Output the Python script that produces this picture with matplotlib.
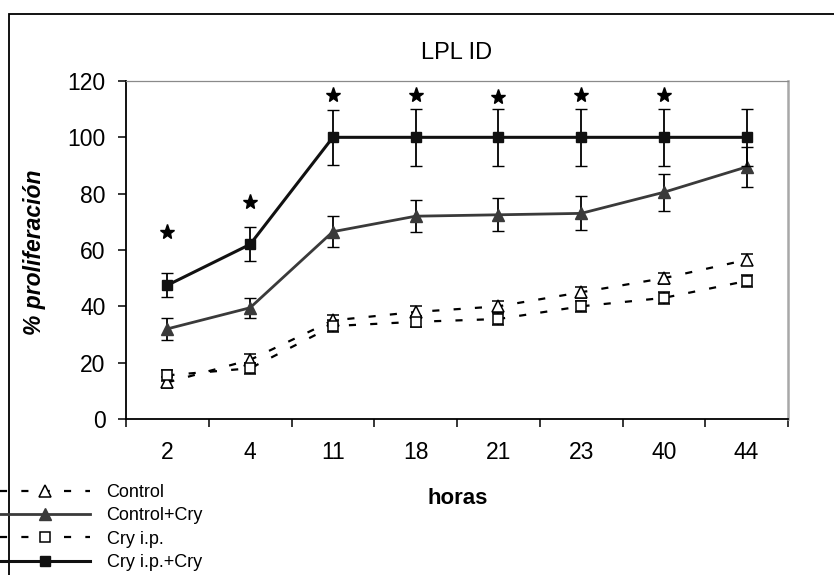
import numpy as np
import matplotlib.pyplot as plt
from matplotlib.lines import Line2D
from matplotlib.patches import Rectangle

plt.switch_backend("Agg")
plt.rcParams["font.family"] = ["Liberation Sans", "DejaVu Sans"]

# 数据
horas = ["2", "4", "11", "18", "21", "23", "40", "44"]

control = [13, 21, 35, 38, 40, 45, 50, 56.5]
control_err = [2, 2, 2, 2, 2, 2, 2, 2]

control_cry = [32, 39.5, 66.5, 72, 72.5, 73, 80.5, 89.5]
control_cry_err = [3.8, 3.5, 5.5, 5.7, 5.8, 6, 6.5, 7]

cry_ip = [15.5, 18, 33, 34.5, 35.5, 40, 43, 49]
cry_ip_err = [2, 2, 2, 2, 2, 2, 2, 2]

cry_ip_cry = [47.5, 62, 100, 100, 100, 100, 100, 100]
cry_ip_cry_err = [4.3, 6, 9.7, 10, 10, 10, 10, 10]

# 显著性标记 (*) 位置
star_idx = [0, 1, 2, 3, 4, 5, 6]
star_y = [66.5, 77, 115, 115, 114.4, 115, 115.2]

x = np.arange(len(horas))

fig = plt.figure(figsize=(8.34, 5.75), dpi=100)
ax = fig.add_axes([126 / 834, 1 - 419 / 575, (788 - 126) / 834, (419 - 81) / 575])

dash = (3.2, 6.4)
err_kw = dict(ecolor="black", elinewidth=1.3, capsize=4.3, capthick=1.3)

# 四组曲线
styles = [
    dict(data=control, err=control_err, label="Control", color="black", lw=1.6, dashes=dash,
         marker="^", ms=8, mfc="white", mec="black", mew=1.1, z=3),
    dict(data=control_cry, err=control_cry_err, label="Control+Cry", color="#3a3a3a", lw=2.0,
         dashes=None, marker="^", ms=8.5, mfc="#3a3a3a", mec="#3a3a3a", mew=1.0, z=4),
    dict(data=cry_ip, err=cry_ip_err, label="Cry i.p.", color="black", lw=1.6, dashes=dash,
         marker="s", ms=7, mfc="white", mec="black", mew=1.1, z=3),
    dict(data=cry_ip_cry, err=cry_ip_cry_err, label="Cry i.p.+Cry", color="#111111", lw=2.2,
         dashes=None, marker="s", ms=7.2, mfc="#111111", mec="#111111", mew=1.0, z=5),
]

handles = []
for s in styles:
    kw = dict(color=s["color"], lw=s["lw"], marker=s["marker"], ms=s["ms"],
              mfc=s["mfc"], mec=s["mec"], mew=s["mew"])
    if s["dashes"]:
        kw["dashes"] = s["dashes"]
    ax.errorbar(x, s["data"], yerr=s["err"], zorder=s["z"], **kw, **err_kw)
    handles.append(Line2D([], [], label=s["label"], **kw))

ax.plot(x[star_idx], star_y, ls="none", marker="*", ms=11, color="black", zorder=6)

ax.set_xlim(-0.5, len(horas) - 0.5)
ax.set_ylim(0, 120)
ax.set_yticks(np.arange(0, 121, 20))
ax.set_xticks(x)
ax.set_xticklabels(horas)
ax.set_xticks(np.arange(-0.5, len(horas), 1), minor=True)

ax.tick_params(axis="y", direction="out", length=5.8, width=1.1, pad=9, labelsize=16.5)
ax.tick_params(axis="x", which="major", length=0, pad=16, labelsize=16.5)
ax.tick_params(axis="x", which="minor", direction="out", length=5.8, width=1.1)

for side in ["left", "bottom"]:
    ax.spines[side].set_color("black")
    ax.spines[side].set_linewidth(1.3)
ax.spines["top"].set_color("#8a8a8a")
ax.spines["top"].set_linewidth(0.9)
ax.spines["right"].set_color("#a8a8a8")
ax.spines["right"].set_linewidth(1.8)

ax.set_title("LPL ID", fontsize=17, pad=16)
fig.text(35 / 834, 1 - 252 / 575, "% proliferación", rotation=90, ha="center", va="center",
         fontsize=16.5, fontweight="bold", fontstyle="italic")
fig.text(458 / 834, 1 - 498 / 575, "horas", ha="center", va="center",
         fontsize=16, fontweight="bold")

fig.legend(handles=handles, loc="upper left", bbox_to_anchor=(0, 1 - 484 / 575),
           frameon=False, fontsize=13, handlelength=5, handletextpad=0.9,
           borderpad=0, borderaxespad=0, labelspacing=0.35)

# 外框
fig.add_artist(Rectangle((9 / 834, -0.1), 1.2, 1 - 14 / 575 + 0.1, transform=fig.transFigure,
                         fill=False, ec="black", lw=1.3))

fig.savefig("out.png", dpi=100, facecolor="white")
